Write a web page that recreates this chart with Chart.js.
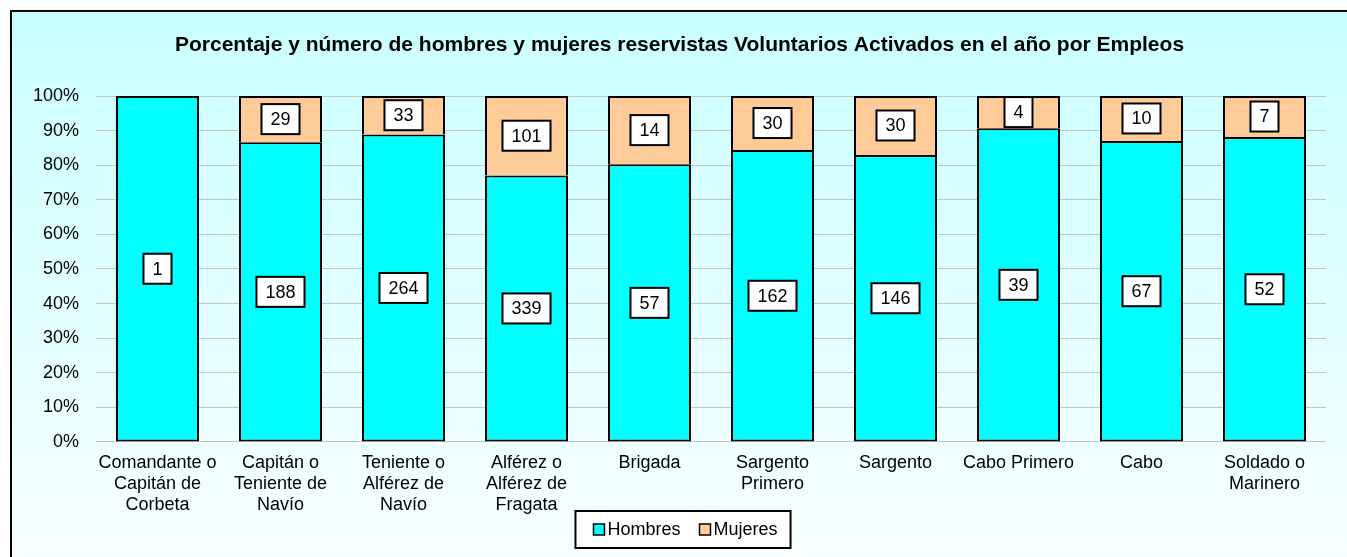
<!DOCTYPE html>
<html>
<head>
<meta charset="utf-8">
<script src="https://cdn.jsdelivr.net/npm/chart.js@4.4.0/dist/chart.umd.min.js"></script>
<style>
  html, body { margin: 0; padding: 0; background: #ffffff; }
  canvas { display: block; }
</style>
</head>
<body>
<canvas id="c" width="1347" height="557"></canvas>
<script>
const categories = [
  ['Comandante o', 'Capitán de', 'Corbeta'],
  ['Capitán o', 'Teniente de', 'Navío'],
  ['Teniente o', 'Alférez de', 'Navío'],
  ['Alférez o', 'Alférez de', 'Fragata'],
  'Brigada',
  ['Sargento', 'Primero'],
  'Sargento',
  'Cabo Primero',
  'Cabo',
  ['Soldado o', 'Marinero']
];
const hombres = [1, 188, 264, 339, 57, 162, 146, 39, 67, 52];
const mujeres = [0, 29, 33, 101, 14, 30, 30, 4, 10, 7];
const yTicks = [0, 10, 20, 30, 40, 50, 60, 70, 80, 90, 100];

const totals = hombres.map((h, i) => h + mujeres[i]);
const hombresPct = hombres.map((h, i) => h / totals[i] * 100);
const mujeresPct = mujeres.map((m, i) => m / totals[i] * 100);
const counts = [hombres, mujeres];

const FONT = "'Liberation Sans', Arial, sans-serif";

const framePlugin = {
  id: 'frame',
  beforeDraw(chart) {
    const ctx = chart.ctx;
    ctx.save();
    ctx.fillStyle = '#ffffff';
    ctx.fillRect(0, 0, chart.width, chart.height);
    const g = ctx.createLinearGradient(0, 10, 0, chart.height);
    g.addColorStop(0, '#c9ffff');
    g.addColorStop(0.5, '#e0ffff');
    g.addColorStop(1, '#f8ffff');
    ctx.fillStyle = g;
    ctx.fillRect(11, 11, chart.width, chart.height);
    ctx.strokeStyle = '#000000';
    ctx.lineWidth = 2;
    ctx.strokeRect(11, 11, chart.width + 10, chart.height + 10);
    ctx.restore();
  }
};

const labelPlugin = {
  id: 'boxLabels',
  afterDatasetsDraw(chart) {
    const ctx = chart.ctx;
    ctx.save();
    ctx.font = '18px ' + FONT;
    ctx.textAlign = 'center';
    ctx.textBaseline = 'middle';
    chart.data.datasets.forEach((ds, di) => {
      const meta = chart.getDatasetMeta(di);
      meta.data.forEach((el, i) => {
        const v = counts[di][i];
        if (!v) return;
        const txt = String(v);
        const w = ctx.measureText(txt).width + 18;
        const h = 30;
        const cx = el.x;
        const cy = (el.y + el.base) / 2;
        ctx.fillStyle = '#ffffff';
        ctx.fillRect(cx - w / 2, cy - h / 2, w, h);
        ctx.strokeStyle = '#000000';
        ctx.lineWidth = 2;
        ctx.strokeRect(cx - w / 2, cy - h / 2, w, h);
        ctx.fillStyle = '#000000';
        ctx.fillText(txt, cx, cy + 1);
      });
    });
    ctx.restore();
  }
};

const legendPlugin = {
  id: 'customLegend',
  afterDraw(chart) {
    const ctx = chart.ctx;
    ctx.save();
    ctx.font = '18px ' + FONT;
    const items = chart.data.datasets.map(d => ({ label: d.label, color: d.backgroundColor, w: ctx.measureText(d.label).width }));
    const padL = 18, padR = 13, marker = 11, gapM = 3, gapItem = 19;
    let total = padL + padR;
    items.forEach((it, k) => { total += marker + gapM + it.w + (k < items.length - 1 ? gapItem : 0); });
    const cx = 683;
    const left = cx - total / 2;
    const top = 511, h = 37;
    ctx.fillStyle = '#ffffff';
    ctx.fillRect(left, top, total, h);
    ctx.strokeStyle = '#000000';
    ctx.lineWidth = 2;
    ctx.strokeRect(left, top, total, h);
    let x = left + padL;
    const cy = top + h / 2;
    items.forEach(it => {
      ctx.fillStyle = it.color;
      ctx.fillRect(x, cy - marker / 2, marker, marker);
      ctx.lineWidth = 1.5;
      ctx.strokeRect(x, cy - marker / 2, marker, marker);
      x += marker + gapM;
      ctx.fillStyle = '#000000';
      ctx.textAlign = 'left';
      ctx.textBaseline = 'middle';
      ctx.fillText(it.label, x, cy + 1);
      x += it.w + gapItem;
    });
    ctx.restore();
  }
};

new Chart(document.getElementById('c'), {
  type: 'bar',
  data: {
    labels: categories,
    datasets: [
      {
        label: 'Hombres',
        data: hombresPct,
        backgroundColor: '#00ffff',
        borderColor: '#000000',
        borderWidth: 2,
        borderSkipped: false,
        categoryPercentage: 1,
        barPercentage: 0.675
      },
      {
        label: 'Mujeres',
        data: mujeresPct,
        backgroundColor: '#ffcc99',
        borderColor: '#000000',
        borderWidth: 2,
        borderSkipped: 'start',
        categoryPercentage: 1,
        barPercentage: 0.675
      }
    ]
  },
  options: {
    responsive: false,
    animation: false,
    devicePixelRatio: 1,
    layout: { padding: { left: 33, right: 21, top: 10, bottom: 31.3 } },
    plugins: {
      legend: { display: false },
      tooltip: { enabled: false },
      title: {
        display: true,
        text: 'Porcentaje y número de hombres y mujeres reservistas Voluntarios Activados en el año por Empleos',
        color: '#000000',
        font: { family: FONT, size: 21, weight: 'bold', lineHeight: 1.2 },
        padding: { top: 22.4, bottom: 38.4 }
      }
    },
    scales: {
      x: {
        stacked: true,
        grid: { display: false, drawTicks: false },
        border: { display: false },
        ticks: {
          color: '#000000',
          font: { family: FONT, size: 18, lineHeight: 1.18 },
          padding: 10,
          maxRotation: 0,
          minRotation: 0,
          autoSkip: false
        }
      },
      y: {
        stacked: true,
        min: 0,
        max: 100,
        afterBuildTicks(scale) { scale.ticks = yTicks.map(v => ({ value: v })); },
        afterFit(scale) { scale.width = 63; },
        grid: { color: '#c4c4c4', lineWidth: 1, drawTicks: false },
        border: { display: false },
        ticks: {
          color: '#000000',
          font: { family: FONT, size: 18 },
          padding: 17,
          callback: v => v + '%'
        }
      }
    }
  },
  plugins: [framePlugin, labelPlugin, legendPlugin]
});
</script>
</body>
</html>
